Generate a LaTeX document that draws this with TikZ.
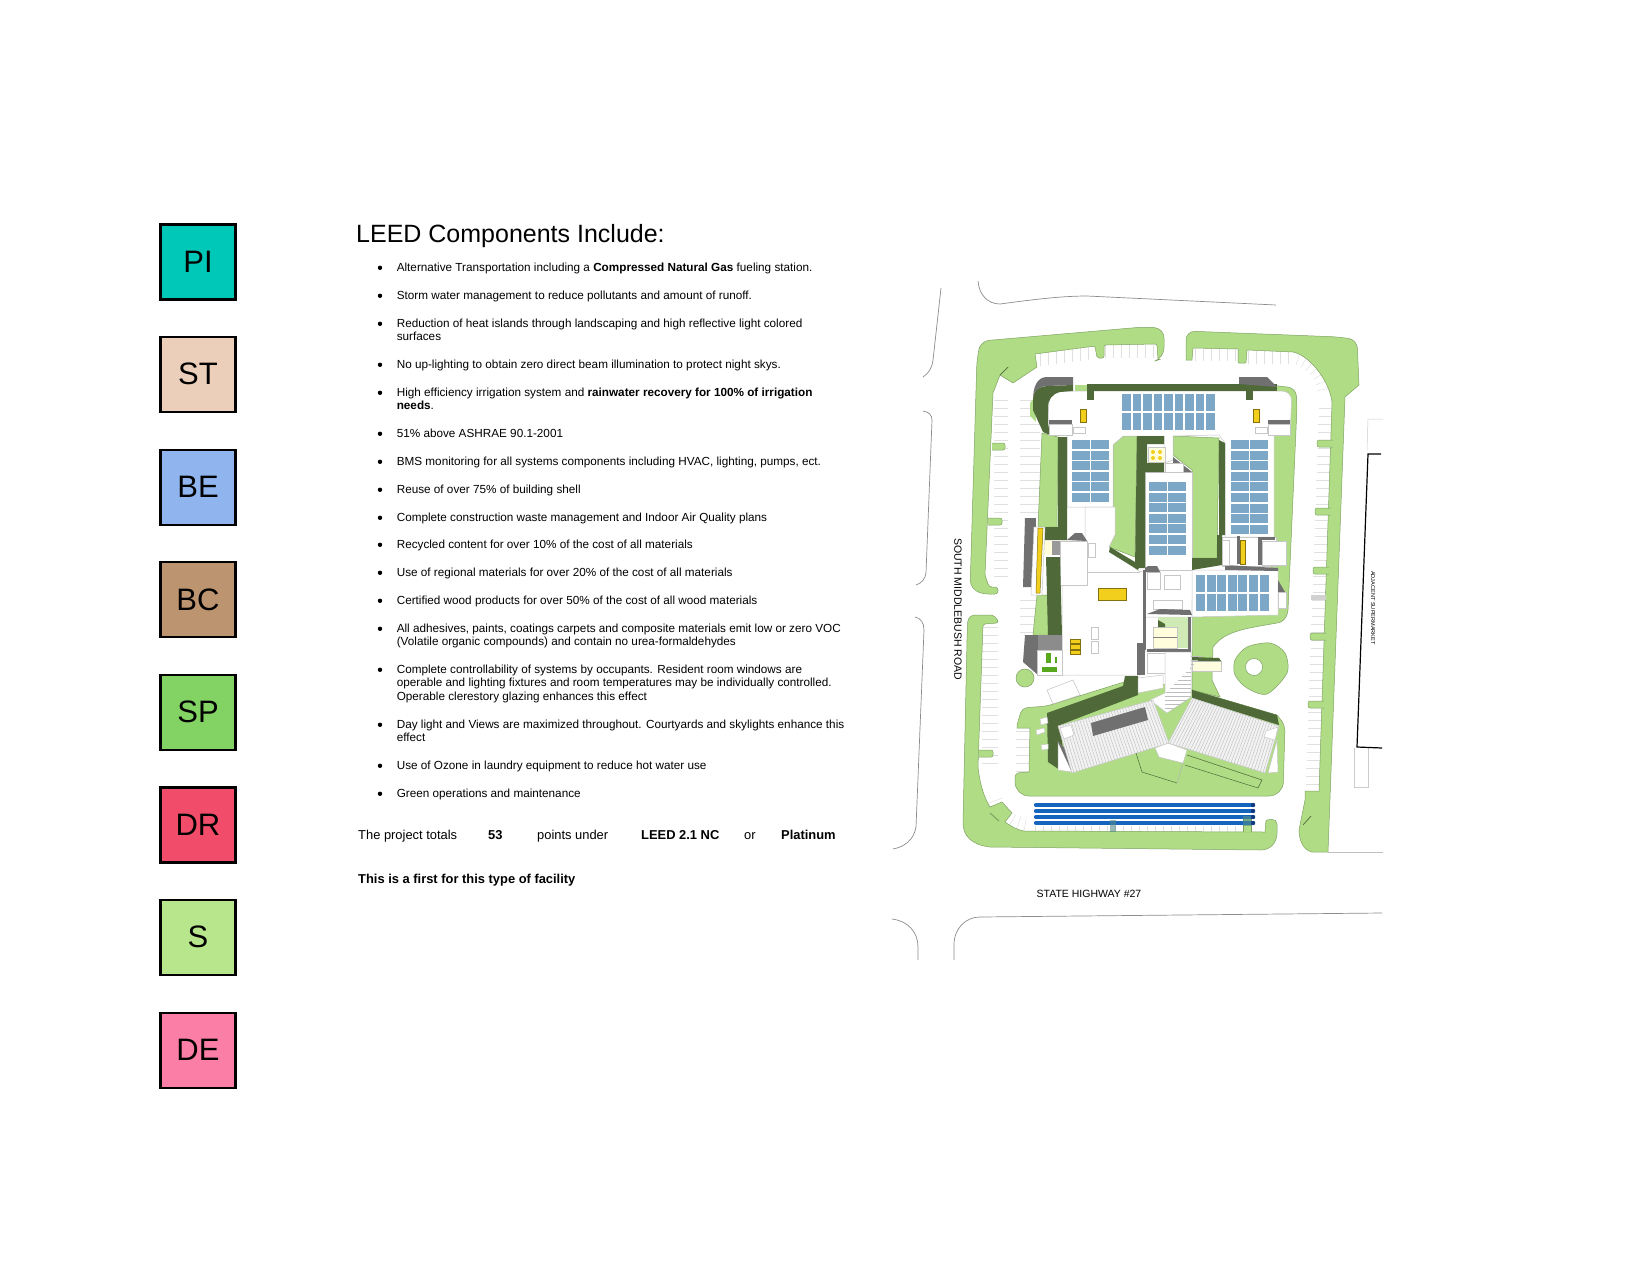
\documentclass[tikz,border=0pt]{standalone}
\usepackage{fontspec}
\setmainfont{Liberation Sans}
\usetikzlibrary{calc}

\definecolor{leedPI}{HTML}{00C8B8}
\definecolor{leedST}{HTML}{EBCFBA}
\definecolor{leedBE}{HTML}{8FB4EE}
\definecolor{leedBC}{HTML}{BD9470}
\definecolor{leedSP}{HTML}{82D264}
\definecolor{leedDR}{HTML}{F14D6A}
\definecolor{leedS}{HTML}{B8E68C}
\definecolor{leedDE}{HTML}{FB7EA6}
\definecolor{lawngreen}{HTML}{B0DC86}
\definecolor{lawnedge}{HTML}{7FA262}
\definecolor{beddark}{HTML}{4F6A38}
\definecolor{solarblue}{HTML}{7DA7C7}
\definecolor{roofgrey}{HTML}{707070}
\definecolor{unityellow}{HTML}{F2CF1C}
\definecolor{barblue}{HTML}{1565BE}
\definecolor{barnavy}{HTML}{123A80}
\definecolor{labgreen}{HTML}{58A81E}

\tikzset{
    creditbox/.style={draw=black, line width=2.1pt, minimum width=75pt, minimum height=75pt,
        inner sep=0pt, font=\fontsize{31}{31}\selectfont},
    item/.style={anchor=north west, inner sep=0pt, align=left, font=\fontsize{11.73}{13.4}\selectfont},
    totals/.style={anchor=base west, inner sep=0pt, font=\fontsize{12.9}{13}\selectfont},
    sitelabel/.style={inner sep=0pt, font=\fontsize{10.5}{10.5}\selectfont},
    road/.style={draw=black!45, line width=0.7pt},
    lawn/.style={fill=lawngreen, draw=lawnedge, line width=0.5pt},
    bed/.style={fill=beddark},
    built/.style={fill=white, draw=black!22, line width=0.5pt},
    stall/.style={draw=black!12, line width=0.5pt},
    roofrib/.style={draw=black!26, line width=0.4pt},
    greyroof/.style={fill=roofgrey},
    yellowunit/.style={fill=unityellow, draw=black!45!unityellow, line width=0.5pt},
    solarcell/.style={fill=solarblue},
}

% panels on the roofs: corner x, corner y, columns, rows, pitch x, pitch y
\newcommand{\solarpanels}[6]{
    \foreach \c in {1,...,#3}{
        \foreach \r in {1,...,#4}{
            \fill[solarcell] ({#1+(\c-1)*#5},{#2+(\r-1)*#6}) rectangle ++({#5-1.6},{#6-1.6});
        }
    }
}

\begin{document}
\begin{tikzpicture}[x=1pt, y=-1pt]
    \useasboundingbox (0,0) rectangle (1650,1275);

    % Credit boxes down the left side
    \foreach \credit/\col [count=\i from 0] in {PI/leedPI, ST/leedST, BE/leedBE, BC/leedBC,
            SP/leedSP, DR/leedDR, S/leedS, DE/leedDE}{
        \node[creditbox, fill=\col] (box\credit) at (198, {262+\i*112.6}) {\raisebox{1pt}{\credit}};
    }

    % Title and list
    \node[anchor=west, inner sep=0pt, font=\fontsize{25}{25}\selectfont] (title) at (356,236) {LEED Components Include:};

    \foreach \y/\txt [count=\i] in {
        267/{Alternative Transportation including a \textbf{Compressed Natural Gas} fueling station.},
        295/{Storm water management to reduce pollutants and amount of runoff.},
        323/{Reduction of heat islands through landscaping and high reflective light colored\\surfaces},
        364/{No up-lighting to obtain zero direct beam illumination to protect night skys.},
        392/{High efficiency irrigation system and \textbf{rainwater recovery for 100\% of irrigation}\\\textbf{needs}.},
        433/{51\% above ASHRAE 90.1-2001},
        461/{BMS monitoring for all systems components including HVAC, lighting, pumps, ect.},
        489/{Reuse of over 75\% of building shell},
        517/{Complete construction waste management and Indoor Air Quality plans},
        544/{Recycled content for over 10\% of the cost of all materials},
        572/{Use of regional materials for over 20\% of the cost of all materials},
        600/{Certified wood products for over 50\% of the cost of all wood materials},
        628/{All adhesives, paints, coatings carpets and composite materials emit low or zero VOC\\(Volatile organic compounds) and contain no urea-formaldehydes},
        669/{Complete controllability of systems by occupants. Resident room windows are\\operable and lighting fixtures and room temperatures may be individually controlled.\\Operable clerestory glazing enhances this effect},
        724/{Day light and Views are maximized throughout. Courtyards and skylights enhance this\\effect},
        765/{Use of Ozone in laundry equipment to reduce hot water use},
        793/{Green operations and maintenance}}{
        \fill ({380},{\y+0.8}) circle (2.2pt);
        \node[item] (item\i) at (396.6,{\y-4.2}) {\txt};
    }

    % Totals line
    \node[totals] (totalA) at (358,839.5) {The project totals};
    \node[totals] (totalB) at (488,839.5) {\textbf{53}};
    \node[totals] (totalC) at (537,839.5) {points under};
    \node[totals] (totalD) at (641,839.5) {\textbf{LEED 2.1 NC}};
    \node[totals] (totalE) at (744,839.5) {or};
    \node[totals] (totalF) at (781,839.5) {\textbf{Platinum}};
    \node[totals] (firstline) at (358,883.5) {\textbf{This is a first for this type of facility}};

    % Road edges
    \draw[road] (941,288) -- (933,360) .. controls (932,368) and (929,373) .. (923,377);
    \draw[road] (923,411) .. controls (929,412) and (932,415) .. (932,420) -- (926,573) .. controls (925,579) and (922,583) .. (916,585);
    \draw[road] (915,617) .. controls (921,618) and (924,623) .. (924,630) -- (916,827) .. controls (914,840) and (904,847) .. (893,849);
    \draw[road] (978,281) .. controls (979,295) and (988,304) .. (1000,304) .. controls (1030,300) and (1060,296) .. (1087,296) -- (1276,305);
    \draw[road] (892,919) .. controls (908,921) and (918,932) .. (918,947) -- (918,960);
    \draw[road] (954,960) -- (954,945) .. controls (954,928) and (966,917) .. (980,917) -- (1382,913);
    \draw[road, black!25] (1328,852) -- (1383,852);

    % Next door building
    \draw[black!20, line width=0.5pt] (1383,419) -- (1368,419) -- (1367,450);
    \draw[black!20, line width=0.5pt] (1368,748) -- (1368,787) -- (1354,787) -- (1354,748);
    \draw[black, line width=1.2pt] (1381,454) -- (1368,454) -- (1357,747) -- (1382,748);

    % Parking stalls
    \foreach \y in {400,408,...,580} { \draw[stall] (994,\y) -- (1008,\y); }
    \foreach \y in {400,408,...,516} { \draw[stall] (1020,\y) -- (1040,\y); }
    \foreach \y in {600,608,...,632} { \draw[stall] (1020,\y) -- (1037,\y); }
    \foreach \y in {627,635,...,767} { \draw[stall] (982,\y) -- (998,\y); }
    \foreach \y in {731,739,...,771} { \draw[stall] (1016,\y) -- (1030,\y); }
    \foreach \y in {408,416,...,797} { \draw[stall] ({1334-(\y-408)*0.035},\y) -- ({1319-(\y-408)*0.035},\y); }
    \foreach \x in {1040,1048,...,1095} { \draw[stall] (\x,{353-(\x-1040)*0.12}) -- (\x,{366-(\x-1040)*0.12}); }
    \foreach \x in {1105,1113,...,1157} { \draw[stall] (\x,345) -- (\x,358); }
    \foreach \x in {1195,1203,...,1235} { \draw[stall] (\x,349) -- (\x,361); }
    \foreach \x in {1248,1256,...,1288} { \draw[stall] (\x,351) -- (\x,364); }
    \foreach \a in {15,25,...,75} { \draw[stall] ({1288+45*cos(\a)},{400-48*sin(\a)}) -- ({1288+31*cos(\a)},{400-36*sin(\a)}); }
    \foreach \a in {200,210,...,260} { \draw[stall] ({1032+46*cos(\a)},{788-44*sin(\a)}) -- ({1032+32*cos(\a)},{788-30*sin(\a)}); }
    \foreach \x in {1035,1043,...,1258} { \draw[stall] (\x,826) -- (\x,832); }

    % Outer planting beds
    \path[lawn] (977,357) [rounded corners=8pt] -- (981,341) -- (1143,327) [rounded corners=10pt] -- (1164,328) -- (1164,358)
        [rounded corners=2pt] -- (1158,360) -- (1157,344) -- (1104,345) -- (1104,358) -- (1097,358) -- (1095,346)
        [sharp corners] -- (1035,354) -- (1037,367) -- (1013,383) -- (1000,375) -- (993,393) -- (985,575)
        [rounded corners=3pt] -- (989,587) -- (998,587) -- (998,594) -- (985,594) [rounded corners=10pt] -- (970,590) -- cycle;
    \path[lawn] (992,443) [rounded corners=2pt] -- (1005,443) -- (1005,450) -- (992,450);
    \path[lawn] (988,518) [rounded corners=2pt] -- (1002,518) -- (1002,525) -- (988,525);
    \draw[beddark, line width=0.7pt] (1000,375) -- (1008,367);

    \path[lawn] (967,640) [rounded corners=7pt] -- (968,615) -- (997,615) [rounded corners=2pt] -- (998,623) -- (983,624)
        [sharp corners] -- (978,767) .. controls (980,785) and (984,797) .. (990,807) -- (1002,802) -- (1012,813) -- (1005,822)
        .. controls (1012,827) and (1018,830) .. (1024,831) -- (1265,832) [rounded corners=1pt] -- (1266,820)
        [rounded corners=5pt] -- (1277,819) [rounded corners=1pt] -- (1277,832)
        [sharp corners] .. controls (1277,843) and (1270,850) .. (1261,850) -- (990,847)
        .. controls (972,845) and (963,836) .. (963,823) -- cycle;
    \path[lawn] (979,750) [rounded corners=2pt] -- (993,750) -- (993,757) -- (979,757);
    \path[lawn] (1243,832) -- (1243,817) -- (1251,817) -- (1251,832);
    \draw[lawnedge, line width=1pt] (990,813) -- (999,821);

    \path[lawn] (1186,360) [rounded corners=9pt] -- (1186,331) -- (1340,337) [rounded corners=8pt] -- (1357,340)
        [sharp corners] -- (1359,385) -- (1345,397) -- (1328,852) -- (1312,852)
        .. controls (1303,850) and (1299,840) .. (1299,830) -- (1305,800) -- (1305,791) -- (1319,791) -- (1332,403)
        .. controls (1331,385) and (1312,356) .. (1293,352) -- (1247,350) [rounded corners=1pt] -- (1246,363) -- (1238,363)
        [sharp corners] -- (1238,349) -- (1193,348) -- (1192,360) -- cycle;
    \foreach \y/\xa/\xb in {440/1333/1317, 508/1331/1315, 567/1329/1313, 633/1326/1310, 701/1324/1308}{
        \path[lawn] (\xa,\y) [rounded corners=2pt] -- (\xb,\y) -- (\xb,{\y+7}) -- (\xa,{\y+7});
    }
    \fill[black!18] (1311,595) rectangle (1326,600);
    \draw[beddark, line width=0.7pt] (1303,825) -- (1311,816);

    % Inner planting around the building
    \path[lawn] (1042,433) -- (1058,437) -- (1057,527) -- (1038,527) -- cycle;
    \path[lawn] (1037,595) -- (1048,595) -- (1048,635) -- (1033,635) -- cycle;
    \fill[lawngreen] (1075,385) rectangle (1087,391);
    \fill[lawngreen] (1030,403) -- (1034,398) -- (1036,422) -- (1030,416) -- cycle;
    \path[lawn] (1270,385) [rounded corners=8pt] -- (1296,388) -- (1297,407) [sharp corners] -- (1288,610)
        .. controls (1287,620) and (1280,623) .. (1277,623) .. controls (1250,628) and (1225,630) .. (1213,647)
        -- (1212,680) -- (1220,697) -- (1192,690) -- (1192,600) -- (1270,570) -- cycle;
    \path[lawn] (1017,725) [rounded corners=5pt] -- (1022,708) -- (1047,706) [sharp corners] -- (1124,682) -- (1140,680) -- (1192,690) -- (1277,715)
        [rounded corners=6pt] -- (1285,725) [rounded corners=14pt] -- (1283,796) -- (1015,796) [rounded corners=4pt] -- (1015,773)
        [sharp corners] -- (1029,772) -- (1030,728) -- (1017,728) -- cycle;
    \path[lawn] plot[smooth cycle] coordinates {(1235,660) (1247,647) (1270,643) (1285,653) (1287,673) (1267,694) (1247,688) (1235,675)};
    \path[lawn, fill=white] (1254,667) circle (8.5pt);
    \path[lawn] (1025,678) circle (9pt);
    \path[lawn] (1113,445) -- (1123,436) -- (1137,436) -- (1135,557) -- (1109,547) -- (1115,535) -- (1113,507) -- cycle;
    \path[lawn] (1173,436) -- (1219,438) -- (1217,558) -- (1192,558) -- (1192,470) -- (1173,455) -- cycle;

    % Building footprint
    \path[built] (1048,435) -- (1048,415) [rounded corners=10pt] -- (1050,391) -- (1292,391) [sharp corners] -- (1290,435) -- (1274,435)
        -- (1274,537) -- (1225,537) -- (1225,443) -- (1219,435) -- (1173,436) -- (1173,460) -- (1164,463) -- (1164,436)
        -- (1123,436) -- (1113,445) -- (1113,507) -- (1067,507) -- (1067,435) -- cycle;
    \path[built] (1145,472) rectangle (1192,570);
    \path[built] (1222,537) rectangle (1276,566);
    \path[built] (1192,570) -- (1278,570) -- (1278,615) -- (1192,617) -- cycle;
    \path[built] (1085,507) -- (1115,507) -- (1115,535) -- (1109,547) -- (1140,572) -- (1145,570) -- (1145,617) -- (1192,617) -- (1192,650) -- (1145,652)
        -- (1140,675) -- (1037,675) -- (1037,650) -- (1062,650) -- (1062,541) -- (1085,541) -- cycle;
    \path[built] (1060,541) rectangle (1087,585);
    \path[built] (1088,543) rectangle (1095,557);
    \draw[black!22, line width=0.6pt] (1088,572) -- (1140,572);
    \path[built] (1091,627) rectangle (1098,639);
    \path[built] (1091,641) rectangle (1098,653);
    \path[built] (1147,572) rectangle (1160,589);
    \draw[black!22, line width=0.4pt] (1164,575) rectangle (1180,589);
    \draw[black!22, line width=0.4pt] (1153,600) rectangle (1182,609);

    % Dark green beds
    \fill[bed] (1088,384) rectangle (1277,391);
    \fill[bed] (1087,384) rectangle (1094,400);
    \fill[bed] (1246,384) rectangle (1253,400);
    \fill[bed] (1033,400) .. controls (1033,390) and (1040,386) .. (1047,386) -- (1073,385) -- (1073,391) -- (1060,392)
        .. controls (1052,394) and (1048,400) .. (1048,407) -- (1048,423) -- (1050,435) -- (1043,432) -- (1033,410) -- cycle;
    \fill[bed] (1058,437) -- (1067,437) -- (1067,540) -- (1045,540) -- (1045,527) -- (1058,527) -- cycle;
    \fill[bed] (1046,557) -- (1060,557) -- (1062,635) -- (1048,635) -- cycle;
    \fill[bed] (1137,436) -- (1164,436) -- (1164,444) -- (1147,444) -- (1147,463) -- (1164,463) -- (1164,472) -- (1145,472) -- (1145,568) -- (1135,568) -- cycle;
    \fill[bed] (1110,547) -- (1140,565) -- (1138,570) -- (1109,552) -- cycle;
    \fill[bed] (1219,440) -- (1225,443) -- (1225,535) -- (1222,535) -- (1222,565) -- (1192,570) -- (1192,558) -- (1217,558) -- (1217,535) -- (1219,535) -- cycle;

    % Solar panels
    \solarpanels{1122}{394}{9}{2}{10.5}{19}
    \solarpanels{1072}{440}{2}{6}{19.4}{10.6}
    \solarpanels{1149}{482}{2}{7}{19.4}{10.6}
    \solarpanels{1231}{440}{2}{9}{19.4}{10.6}
    \solarpanels{1196}{575}{7}{2}{10.6}{19}

    % Grey roofs and walls
    \fill[greyroof] (1033,400) .. controls (1033,387) and (1037,377) .. (1047,377) -- (1073,377) -- (1073,385) -- (1047,386) .. controls (1040,386) and (1033,390) .. (1033,400) -- cycle;
    \fill[greyroof] (1239,377) -- (1267,377) -- (1277,387) -- (1239,384) -- cycle;
    \fill[greyroof] (1025,518) -- (1036,518) -- (1034,587) -- (1023,587) -- cycle;
    \fill[greyroof] (1225,565) -- (1278,568) -- (1278,571) -- (1225,570) -- cycle;
    \fill[greyroof] (1258,537) rectangle (1275,540);
    \fill[greyroof] (1258,537) rectangle (1262,565);
    \fill[greyroof] (1237,536) rectangle (1240,564);
    \fill[greyroof] (1278,580) -- (1285,592) -- (1278,592) -- cycle;
    \fill[greyroof] (1173,457) -- (1192,472) -- (1173,472) -- cycle;
    \fill[greyroof] (1067,540) -- (1075,533) -- (1082,533) -- (1087,541) -- cycle;
    \fill[greyroof] (1145,568) -- (1148,566) -- (1157,566) -- (1160,572) -- (1145,572) -- cycle;
    \fill[greyroof] (1143,570) rectangle (1146,650);
    \fill[greyroof] (1137,643) rectangle (1145,675);
    \fill[greyroof] (1049,420) rectangle (1072,425);
    \fill[greyroof] (1268,420) rectangle (1290,425);
    \fill[yellow!14] (1043,541) rectangle (1052,555);
    \fill[black!40] (1052,541) rectangle (1060,555);

    % Small white boxes on the roof
    \path[built] (1049,424) rectangle (1072,435);
    \path[built] (1268,424) rectangle (1290,435);
    \path[built] (1073,427) rectangle (1085,433);
    \path[built] (1255,427) rectangle (1267,433);
    \path[built] (1262,541) rectangle (1286,565);
    \path[built] (1222,540) rectangle (1229,565);
    \path[built] (1278,592) rectangle (1286,608);
    \path[built] (1165,463) rectangle (1183,472);
    \path[built] (1034,527) -- (1045,527) -- (1042,595) -- (1031,595) -- cycle;

    % Yellow units
    \fill[yellowunit] (1080,409) rectangle (1086,422);
    \fill[yellowunit] (1253,409) rectangle (1259,422);
    \fill[yellowunit] (1038,528) -- (1043,528) -- (1040,593) -- (1036,593) -- cycle;
    \fill[yellowunit] (1098,588) rectangle (1126,600);
    \fill[yellowunit] (1240,540) rectangle (1245,564);
    \foreach \y in {639,644.5,650} { \fill[yellowunit] (1070,\y) rectangle (1080,{\y+4.5}); }
    \path[built, fill=yellow!12] (1148,447) rectangle (1165,462);
    \foreach \x/\y in {1153/452, 1160/452, 1153/458, 1160/458} { \fill[unityellow] (\x,\y) circle (2pt); }

    % Lab block on the west side
    \fill[greyroof] (1025,635) -- (1062,635) -- (1062,650) -- (1038,650) -- (1038,675) -- (1023,662) -- cycle;
    \fill[black!45] (1038,635) rectangle (1062,650);
    \path[built] (1037,650) rectangle (1062,675);
    \fill[labgreen] (1046,653) rectangle (1051,663);
    \fill[labgreen] (1055,657) rectangle (1057,663);
    \fill[labgreen] (1042,667) rectangle (1057,672);

    % Entry court
    \fill[lawngreen!60!white] (1158,617) rectangle (1188,648);
    \fill[greyroof] (1147,614) -- (1160,609) -- (1190,610) -- (1192,615) -- cycle;
    \fill[greyroof] (1188,617) rectangle (1191,650);
    \fill[greyroof] (1147,649) rectangle (1191,652);
    \path[built, fill=yellow!14] (1153,627) rectangle (1177,648);
    \draw[black!50, line width=0.4pt] (1153,637) -- (1177,637);
    \fill[beddark] (1158,620) -- (1165,624) -- (1165,627) -- (1158,627) -- cycle;

    % Stub on the east side of the spine
    \path[built, fill=yellow!12] (1192,661) rectangle (1221,671);
    \fill[bed] (1192,657) -- (1219,658) -- (1221,661) -- (1192,661) -- cycle;

    % Wings
    \fill[bed] (1047,713) -- (1123,686) -- (1125,676) -- (1138,676) -- (1138,695) -- (1060,725) -- (1063,750) -- (1060,770) -- (1048,762) -- cycle;
    \fill[bed] (1192,690) -- (1277,715) -- (1279,725) -- (1192,698) -- cycle;
    \path[built] (1147,653) rectangle (1165,673);
    \path[built] (1138,678) -- (1163,675) -- (1163,688) -- (1138,693) -- cycle;
    \path[built] (1058,742) -- (1072,772) -- (1058,770) -- cycle;
    \fill[greyroof] (1058,742) -- (1065,748) -- (1072,772) -- cycle;
    \path[built] (1277,740) -- (1268,773) -- (1278,772) -- cycle;
    \path[built] (1155,748) -- (1168,743) -- (1187,750) -- (1183,763) -- (1159,757) -- cycle;
    \path[built] (1165,652) -- (1191,652) -- (1191,697) -- (1167,713) -- (1150,700) -- (1165,693) -- cycle;
    \foreach \y in {656,660,...,708} { \draw[roofrib] ({max(1165,1165-(\y-693)*1)},\y) -- ({min(1191,1191-(\y-697)*1.5)},\y); }
    \path[built, fill=black!5] (1058,726) -- (1153,700) -- (1169,743) -- (1072,773) -- cycle;
    \path[built, fill=black!5] (1192,698) -- (1279,726) -- (1265,773) -- (1168,743) -- cycle;
    \foreach \t in {0.02,0.05,...,1}{
        \draw[roofrib] ($(1058,726)!\t!(1153,700)$) -- ($(1072,773)!\t!(1169,743)$);
        \draw[roofrib] ($(1192,698)!\t!(1279,726)$) -- ($(1168,743)!\t!(1265,773)$);
    }
    \fill[greyroof] (1091,723) -- (1145,707) -- (1148,720) -- (1093,736) -- cycle;
    \path[built] (1060,728) -- (1071,725) -- (1074,735) -- (1064,739) -- cycle;
    \path[built] (1266,731) -- (1278,727) -- (1275,740) -- (1264,737) -- cycle;
    \path[built] (1040,719) -- (1047,717) -- (1048,723) -- (1041,725) -- cycle;
    \path[built] (1036,730) -- (1044,728) -- (1045,732) -- (1037,735) -- cycle;
    \path[built] (1041,745) -- (1048,744) -- (1048,749) -- (1042,750) -- cycle;
    \draw[black!25, line width=0.5pt] (1047,690) -- (1073,680) -- (1080,695) -- (1053,704) -- cycle;

    % Lines in the south lawn
    \draw[beddark, line width=0.5pt] (1136,753) -- (1142,772) -- (1177,783);
    \draw[black!30, line width=0.5pt] (1177,783) -- (1183,763);
    \draw[beddark, line width=0.5pt] (1187,755) -- (1262,780) -- (1258,788) -- (1185,765);

    % Blue bars at the south
    \foreach \y in {805,811,817,823}{
        \draw[barblue, line width=4.2pt, line cap=round] (1036,\y) -- (1253,\y);
        \fill[barnavy] (1253,\y) circle (2.2pt);
    }
    \fill[lawnedge!60!barblue, opacity=0.6] (1110,820) rectangle (1116,832);
    \fill[lawnedge!60!barblue, opacity=0.6] (1243,816) rectangle (1251,826);

    % Street names
    \node[sitelabel, rotate=-90] (southroad) at (958,609) {SOUTH MIDDLEBUSH ROAD};
    \node[sitelabel] (highway) at (1089,894) {STATE HIGHWAY \#27};
    \node[sitelabel, rotate=-90, font=\fontsize{5.6}{5.6}\selectfont] (market) at (1373,608) {ADJACENT SUPERMARKET};
\end{tikzpicture}
\end{document}
